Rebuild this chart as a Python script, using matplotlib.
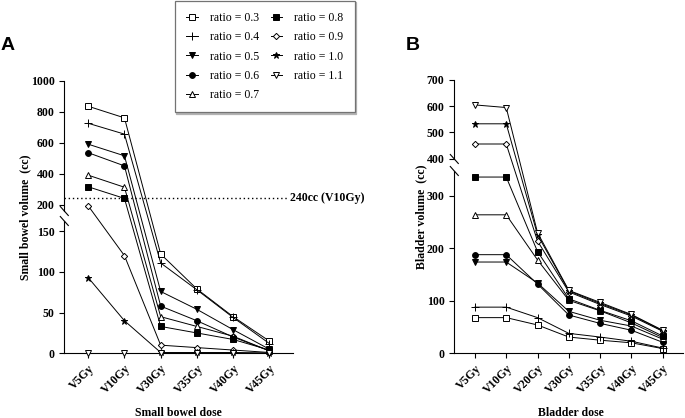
import numpy as np
import matplotlib
matplotlib.use('Agg')
import matplotlib.pyplot as plt
from matplotlib.lines import Line2D
from matplotlib.scale import FuncScale
import matplotlib.transforms as mtransforms

# ---- data ----
ratios = ['0.3', '0.4', '0.5', '0.6', '0.7', '0.8', '0.9', '1.0', '1.1']

bowel_doses = ['V5Gy', 'V10Gy', 'V30Gy', 'V35Gy', 'V40Gy', 'V45Gy']
bowel_03 = [835, 760, 122, 79, 45, 15]
bowel_04 = [725, 655, 111, 78, 44, 12]
bowel_05 = [590, 515, 76, 54, 29, 5]
bowel_06 = [535, 450, 58, 40, 20, 3]
bowel_07 = [390, 312, 45, 33, 21, 3]
bowel_08 = [315, 240, 33, 25, 17, 4]
bowel_09 = [192, 120, 10, 7, 4, 1]
bowel_10 = [93, 40, 1, 1, 1, 0.5]
bowel_11 = [0, 0, 0, 0, 0, 0]
bowel_limit = 240

bladder_doses = ['V5Gy', 'V10Gy', 'V20Gy', 'V30Gy', 'V35Gy', 'V40Gy', 'V45Gy']
bladder_03 = [68, 68, 54, 31, 25, 20, 9]
bladder_04 = [88, 88, 68, 38, 31, 23, 10]
bladder_05 = [174, 174, 134, 80, 63, 52, 27]
bladder_06 = [188, 188, 132, 73, 57, 44, 21]
bladder_07 = [264, 264, 178, 101, 81, 58, 30]
bladder_08 = [336, 336, 194, 104, 82, 62, 33]
bladder_09 = [456, 456, 214, 117, 93, 71, 42]
bladder_10 = [533, 533, 226, 119, 95, 73, 43]
bladder_11 = [605, 595, 230, 120, 97, 74, 44]

bowel_series = [bowel_03, bowel_04, bowel_05, bowel_06, bowel_07,
                bowel_08, bowel_09, bowel_10, bowel_11]
bladder_series = [bladder_03, bladder_04, bladder_05, bladder_06, bladder_07,
                  bladder_08, bladder_09, bladder_10, bladder_11]

# marker, fill colour, size for each ratio
styles = [('s', 'white', 4.2), ('+', 'black', 6), ('v', 'black', 4.4),
          ('o', 'black', 4.2), ('^', 'white', 4.4), ('s', 'black', 4.2),
          ('D', 'white', 3.2), ('*', 'black', 5), ('v', 'white', 5)]

serif = 'Liberation Serif'


def piecewise(x, xp, fp):
    x = np.asarray(x, dtype=float)
    shp = x.shape
    x = np.atleast_1d(x)
    out = np.interp(x, xp, fp)
    lo = x < xp[0]
    hi = x > xp[-1]
    s_lo = (fp[1] - fp[0]) / (xp[1] - xp[0])
    s_hi = (fp[-1] - fp[-2]) / (xp[-1] - xp[-2])
    out[lo] = fp[0] + (x[lo] - xp[0]) * s_lo
    out[hi] = fp[-1] + (x[hi] - xp[-1]) * s_hi
    return out.reshape(shp)


def broken_scale(ax, ypts, fpts):
    ax.set_yscale(FuncScale(ax, (lambda y: piecewise(y, ypts, fpts),
                                 lambda f: piecewise(f, fpts, ypts))))


def break_marks(ax, lo, hi, w_px, h_px):
    ax.spines['left'].set_visible(False)
    kw = dict(transform=ax.transAxes, color='black', lw=0.8, clip_on=False)
    ax.plot([0, 0], [0, lo], **kw)
    ax.plot([0, 0], [hi, 1], **kw)
    dx = 4.0 / w_px
    dy = 4.5 / h_px
    for c in (lo, hi):
        ax.plot([-dx, dx], [c + dy, c - dy], **kw)


def draw_panel(ax, doses, series):
    x = np.arange(len(doses))
    for vals, (m, fc, ms) in zip(series, styles):
        ax.plot(x, vals, color='black', lw=0.7, marker=m, markersize=ms,
                markerfacecolor=fc, markeredgecolor='black', markeredgewidth=0.7,
                clip_on=False, zorder=3)
    ax.set_xticks(x)
    ax.set_xticklabels(doses, rotation=45, ha='right', rotation_mode='anchor',
                       family=serif, fontweight='bold', fontsize=8.5)
    ax.set_xlim(-0.66, len(doses) - 1 + 0.66)
    for s in ('top', 'right'):
        ax.spines[s].set_visible(False)
    ax.spines['bottom'].set_linewidth(0.8)
    ax.tick_params(axis='both', length=3.5, width=0.8, direction='out')
    ax.tick_params(axis='x', pad=3)
    for lab in ax.get_yticklabels():
        lab.set_family(serif)
        lab.set_fontweight('bold')
        lab.set_fontsize(8.5)


fig = plt.figure(figsize=(6.85, 4.18), dpi=100)
W, H = 685, 418

# panel A
axA = fig.add_axes([64.3 / W, (H - 353.3) / H, 229 / W, 272.6 / H])
broken_scale(axA, [0, 178.7, 1000], [0, 145.4, 272.6])
axA.set_ylim(0, 1000)
axA.set_yticks([0, 50, 100, 150, 200, 400, 600, 800, 1000])
axA.yaxis.set_minor_locator(matplotlib.ticker.NullLocator())
draw_panel(axA, bowel_doses, bowel_series)
break_marks(axA, 0.4853, 0.522, 229, 272.6)
axA.axhline(bowel_limit, xmin=0, xmax=0.971, color='black', ls=(0, (1, 2)), lw=1)
trans = mtransforms.blended_transform_factory(axA.transAxes, axA.transData)
axA.text(0.985, bowel_limit, '240cc (V10Gy)', transform=trans, ha='left',
         va='center', family=serif, fontweight='bold', fontsize=8.5, clip_on=False)
axA.set_ylabel('Small bowel volume  (cc)', family=serif, fontweight='bold',
               fontsize=8.5, va='center')
axA.yaxis.set_label_coords(-0.172, 0.5)
axA.set_xlabel('Small bowel dose', family=serif, fontweight='bold',
               fontsize=8.5, va='center')
axA.xaxis.set_label_coords(0.497, -0.219)

# panel B
axB = fig.add_axes([454.3 / W, (H - 353.3) / H, 229 / W, 273.3 / H])
broken_scale(axB, [0, 342, 700], [0, 179.4, 273.3])
axB.set_ylim(0, 700)
axB.set_yticks([0, 100, 200, 300, 400, 500, 600, 700])
axB.yaxis.set_minor_locator(matplotlib.ticker.NullLocator())
draw_panel(axB, bladder_doses, bladder_series)
break_marks(axB, 0.667, 0.711, 229, 273.3)
axB.set_ylabel('Bladder volume  (cc)', family=serif, fontweight='bold',
               fontsize=8.5, va='center')
axB.yaxis.set_label_coords(-0.142, 0.5)
axB.set_xlabel('Bladder dose', family=serif, fontweight='bold',
               fontsize=8.5, va='center')
axB.xaxis.set_label_coords(0.507, -0.218)

# panel letters
fig.text(1 / W, 1 - 45 / H, 'A', family='Liberation Sans', fontweight='bold',
         fontsize=14, va='center', ha='left')
fig.text(406 / W, 1 - 45 / H, 'B', family='Liberation Sans', fontweight='bold',
         fontsize=14, va='center', ha='left')

# legend
handles = []
for r, (m, fc, ms) in zip(ratios, styles):
    handles.append(Line2D([], [], color='black', lw=0.7, marker=m, markersize=ms,
                          markerfacecolor=fc, markeredgecolor='black',
                          markeredgewidth=0.7, label='ratio = ' + r))
leg = fig.legend(handles=handles, loc='upper left', ncol=2,
                 bbox_to_anchor=(174.7 / W, 1 - 0.7 / H), borderaxespad=0,
                 prop={'family': serif, 'size': 8.5}, handlelength=1.0,
                 handletextpad=1.0, labelspacing=0.62, columnspacing=1.0,
                 borderpad=0.95, fancybox=False, framealpha=1,
                 edgecolor='0.45', shadow={'ox': 1.2, 'oy': -1.2, 'color': '0.7', 'alpha': 1})
leg.get_frame().set_linewidth(0.9)

fig.savefig('out.png', dpi=100)
